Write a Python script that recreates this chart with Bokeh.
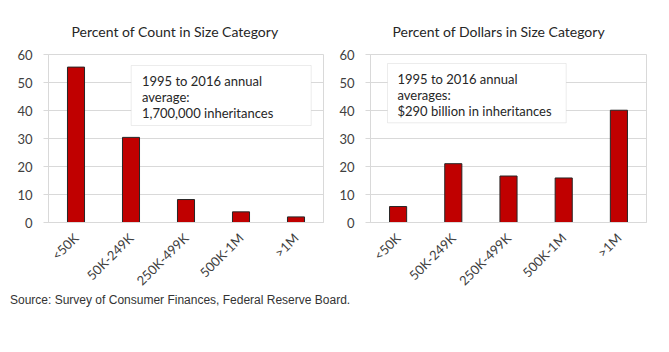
import math
from bokeh.plotting import figure
from bokeh.models import BoxAnnotation, Label, Div, FixedTicker
from bokeh.layouts import row, column
from bokeh.embed import file_html
from bokeh.resources import INLINE

categories = ["<50K", "50K-249K", "250K-499K", "500K-1M", ">1M"]
count_pct = [55.5, 30.4, 8.2, 3.8, 2.0]
dollar_pct = [5.7, 21.0, 16.6, 15.9, 40.1]
y_ticks = [0, 10, 20, 30, 40, 50, 60]
titles = ["Percent of Count in Size Category", "Percent of Dollars in Size Category"]
notes = ["1995 to 2016 annual\naverage:\n1,700,000 inheritances",
         "1995 to 2016 annual\naverages:\n$290 billion in inheritances"]
source = "Source: Survey of Consumer Finances, Federal Reserve Board."

FONT = "Lato"
GRID = "#d9d9d9"
TXT = "#404040"


def make(title, values, note, width, bl, br, title_off, box):
    p = figure(x_range=categories, y_range=(0, 60), width=width, height=297,
               output_backend="svg", toolbar_location=None,
               min_border_left=bl, min_border_right=br, min_border_top=54,
               min_border_bottom=67)
    p.title.text = title
    p.title.align = "left"
    p.title.offset = title_off
    p.title.text_font = FONT
    p.title.text_font_size = "14px"
    p.title.text_font_style = "normal"
    p.title.text_color = "#262626"
    p.title.standoff = 29
    p.x_range.range_padding = 0
    p.vbar(x=categories, top=values, width=0.31, fill_color="#c00000",
           line_color="#262626", line_width=1)
    p.outline_line_color = GRID
    p.xgrid.grid_line_color = None
    p.ygrid.grid_line_color = GRID
    p.yaxis.ticker = FixedTicker(ticks=y_ticks)
    for ax in (p.xaxis[0], p.yaxis[0]):
        ax.axis_line_color = GRID
        ax.major_label_text_font = FONT
        ax.major_label_text_font_size = "13px"
        ax.major_label_text_color = TXT
        ax.minor_tick_line_color = None
    p.yaxis.major_tick_line_color = GRID
    p.yaxis.major_tick_in = 0
    p.yaxis.major_tick_out = 5
    p.yaxis.major_label_standoff = 11
    p.xaxis.major_tick_line_color = None
    p.xaxis.major_label_orientation = math.pi / 4
    p.xaxis.major_label_standoff = 7
    left, top, w, h, tx = box
    p.add_layout(BoxAnnotation(left=left, right=left + w, top=top, bottom=top - h,
                               left_units="screen", right_units="screen",
                               top_units="screen", bottom_units="screen",
                               fill_color="white", fill_alpha=1,
                               line_color="#bfbfbf", line_width=1, level="overlay"))
    p.add_layout(Label(x=tx, y=top - 7, x_units="screen", y_units="screen",
                       text=note, anchor="top_left", text_font=FONT,
                       text_font_size="13px", text_color="#262626",
                       text_line_height=1.0, level="overlay"))
    return p


p1 = make(titles[0], count_pct, notes[0], 335, 48, 12, 23, (82.7, 157, 180, 60, 93.5))
p2 = make(titles[1], dollar_pct, notes[1], 334, 35, 23, 22, (17, 159, 178.7, 59.3, 27))

div = Div(text=source, width=669, height=50, margin=0,
          styles={"font-family": "Liberation Sans, Arial, sans-serif",
                  "font-size": "12px", "color": "#333333",
                  "position": "relative", "top": "-5px",
                  "padding-left": "10px"})

layout = column(row(p1, p2), div)
open("out.html", "w").write(file_html(layout, INLINE))
